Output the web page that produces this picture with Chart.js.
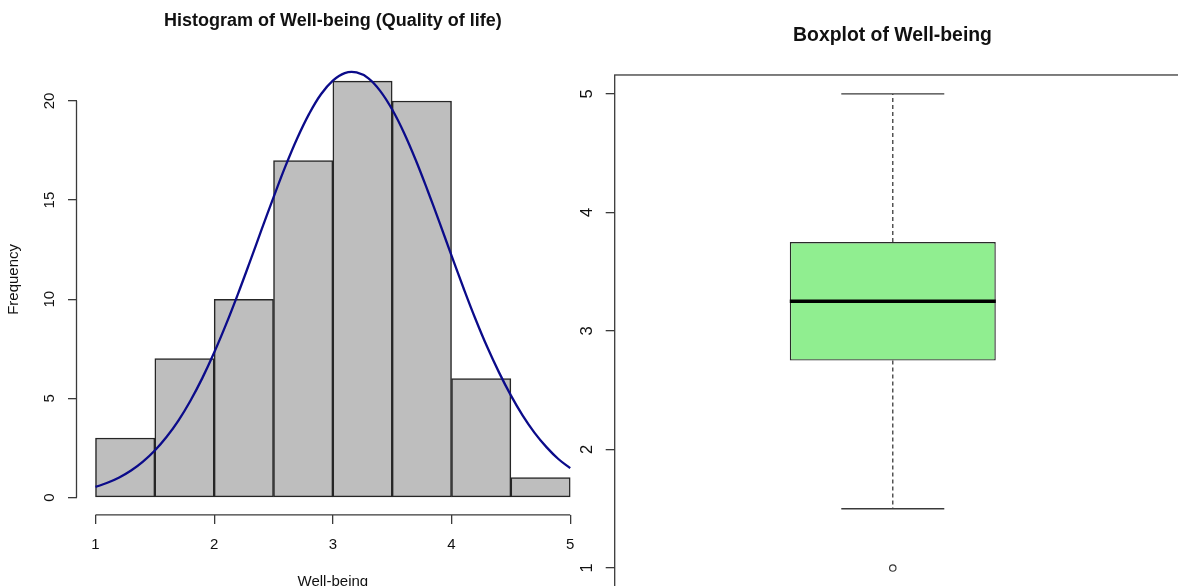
<!DOCTYPE html>
<html>
<head>
<meta charset="utf-8">
<script src="https://cdn.jsdelivr.net/npm/chart.js@4.4.1/dist/chart.umd.min.js"></script>
<style>
  html, body { margin: 0; padding: 0; background: #fff; overflow: hidden; }
  #wrap { position: relative; width: 1178px; height: 586px; overflow: hidden; background: #fff; }
  canvas { position: absolute; top: 0; }
  #histChart { left: 0; }
  #boxChart { left: 575px; }
</style>
</head>
<body>
<div id="wrap">
  <canvas id="histChart" width="600" height="600"></canvas>
  <canvas id="boxChart" width="635" height="587"></canvas>
</div>
<script>
// histogram bins and counts
const binEdges = [1, 1.5, 2, 2.5, 3, 3.5, 4, 4.5, 5];
const binCounts = [3, 7, 10, 17, 21, 20, 6, 1];

// normal curve drawn over the histogram
const curveX = [1, 1.1, 1.2, 1.3, 1.4, 1.5, 1.6, 1.7, 1.8, 1.9,
                2, 2.1, 2.2, 2.3, 2.4, 2.5, 2.6, 2.7, 2.8, 2.9,
                3, 3.1, 3.2, 3.3, 3.4, 3.5, 3.6, 3.7, 3.8, 3.9,
                4, 4.1, 4.2, 4.3, 4.4, 4.5, 4.6, 4.7, 4.8, 4.9, 5];
const curveY = [0.53, 0.74, 1.01, 1.36, 1.81, 2.37, 3.06, 3.89, 4.88, 6.02,
                7.31, 8.73, 10.26, 11.87, 13.52, 15.14, 16.7, 18.12, 19.35, 20.34,
                21.03, 21.41, 21.44, 21.14, 20.5, 19.57, 18.39, 17.0, 15.46, 13.85,
                12.2, 10.58, 9.03, 7.6, 6.31, 5.15, 4.13, 3.26, 2.54, 1.94, 1.48];

const histXTicks = [1, 2, 3, 4, 5];
const histYTicks = [0, 5, 10, 15, 20];

// boxplot: lower whisker, Q1, median, Q3, upper whisker
const boxStats = [1.5, 2.75, 3.25, 3.75, 5];
const boxOutliers = [1];
const boxYTicks = [1, 2, 3, 4, 5];

const ink = "#3a3a3a";
const textCol = "#111";
Chart.defaults.font.family = "'Liberation Sans', Arial, sans-serif";
Chart.defaults.animation = false;

// R style axes: line only spans first..last tick
const histAxisLines = {
  id: "histAxisLines",
  afterDatasetsDraw(chart) {
    const { ctx, chartArea, scales } = chart;
    const x = scales.x, y = scales.y;
    ctx.save();
    ctx.strokeStyle = ink;
    ctx.lineWidth = 1.3;
    ctx.beginPath();
    ctx.moveTo(chartArea.left, y.getPixelForValue(histYTicks[0]));
    ctx.lineTo(chartArea.left, y.getPixelForValue(histYTicks[histYTicks.length - 1]));
    ctx.moveTo(x.getPixelForValue(histXTicks[0]), chartArea.bottom);
    ctx.lineTo(x.getPixelForValue(histXTicks[histXTicks.length - 1]), chartArea.bottom);
    ctx.stroke();
    ctx.restore();
  }
};

const boxFrame = {
  id: "boxFrame",
  afterDatasetsDraw(chart) {
    const { ctx, chartArea } = chart;
    ctx.save();
    ctx.strokeStyle = ink;
    ctx.lineWidth = 1.3;
    ctx.strokeRect(chartArea.left, chartArea.top, chartArea.right - chartArea.left, chartArea.bottom - chartArea.top);
    ctx.restore();
  }
};

function tickMarks(len) {
  return { drawOnChartArea: false, drawTicks: true, tickLength: len, color: ink, lineWidth: 1.3, offset: false };
}

// ---- histogram ----
new Chart(document.getElementById("histChart"), {
  type: "bar",
  data: {
    datasets: [
      {
        type: "line",
        data: curveX.map((x, i) => ({ x, y: curveY[i] })),
        borderColor: "#0b0b8a",
        borderWidth: 2.3,
        pointRadius: 0,
        tension: 0.4,
        order: 0
      },
      {
        type: "bar",
        data: binCounts.map((c, i) => ({ x: (binEdges[i] + binEdges[i + 1]) / 2, y: c })),
        backgroundColor: "#bebebe",
        borderColor: "#262626",
        borderWidth: 1.5,
        borderSkipped: false,
        barPercentage: 1,
        categoryPercentage: 1,
        order: 1
      }
    ]
  },
  options: {
    responsive: false,
    devicePixelRatio: 1,
    layout: { autoPadding: false, padding: { left: 0, right: 10.8, top: 0, bottom: 0 } },
    plugins: {
      legend: { display: false },
      tooltip: { enabled: false },
      title: {
        display: true,
        fullSize: false,
        text: "Histogram of Well-being (Quality of life)",
        color: textCol,
        font: { size: 18, weight: "bold", lineHeight: 1.2 },
        padding: { top: 10.5, bottom: 11.8 }
      }
    },
    scales: {
      x: {
        type: "linear",
        min: 0.84,
        max: 5.16,
        offset: false,
        afterBuildTicks: s => { s.ticks = histXTicks.map(v => ({ value: v })); },
        afterFit: s => { s.height = 85.1; },
        border: { display: false },
        grid: tickMarks(9),
        ticks: { color: textCol, font: { size: 15 }, padding: 12, autoSkip: false, maxRotation: 0 },
        title: { display: true, text: "Well-being", color: textCol, font: { size: 15, lineHeight: 1.2 }, padding: { top: 0, bottom: 9 } }
      },
      y: {
        type: "linear",
        min: -0.88,
        max: 22.88,
        afterBuildTicks: s => { s.ticks = histYTicks.map(v => ({ value: v })); },
        afterFit: s => { s.width = 76.5; s.paddingTop = 0; s.paddingBottom = 0; },
        border: { display: false },
        grid: tickMarks(8.5),
        ticks: { color: textCol, font: { size: 15 }, padding: 9.6, minRotation: 90, maxRotation: 90, crossAlign: "center" },
        title: { display: true, text: "Frequency", color: textCol, font: { size: 15, lineHeight: 1.2 }, padding: { top: 4.5, bottom: 0 } }
      }
    }
  },
  plugins: [histAxisLines]
});

// ---- boxplot ----
const boxCenter = 1, boxHalf = 0.2, capHalf = 0.1;
const boxXMin = 0.46, boxXMax = 1.616;

function segment(x1, y1, x2, y2, extra) {
  return Object.assign({
    type: "line",
    data: [{ x: x1, y: y1 }, { x: x2, y: y2 }],
    borderColor: ink,
    borderWidth: 1.3,
    pointRadius: 0,
    order: 1
  }, extra || {});
}

new Chart(document.getElementById("boxChart"), {
  type: "bar",
  data: {
    datasets: [
      {
        type: "bar",
        data: [{ x: boxCenter, y: [boxStats[1], boxStats[3]] }],
        backgroundColor: "#90ee90",
        borderColor: "#2a2a2a",
        borderWidth: 1.4,
        borderSkipped: false,
        barPercentage: (2 * boxHalf) / (boxXMax - boxXMin),
        categoryPercentage: 1,
        order: 2
      },
      segment(boxCenter - boxHalf, boxStats[2], boxCenter + boxHalf, boxStats[2], { borderColor: "#000", borderWidth: 3.5, order: 0 }),
      segment(boxCenter, boxStats[3], boxCenter, boxStats[4], { borderDash: [4, 3] }),
      segment(boxCenter, boxStats[1], boxCenter, boxStats[0], { borderDash: [4, 3] }),
      segment(boxCenter - capHalf, boxStats[4], boxCenter + capHalf, boxStats[4]),
      segment(boxCenter - capHalf, boxStats[0], boxCenter + capHalf, boxStats[0]),
      {
        type: "scatter",
        data: boxOutliers.map(v => ({ x: boxCenter, y: v })),
        pointStyle: "circle",
        pointRadius: 3.2,
        pointBorderWidth: 1.2,
        pointBorderColor: ink,
        pointBackgroundColor: "rgba(0,0,0,0)",
        borderColor: ink,
        backgroundColor: "rgba(0,0,0,0)",
        order: 0
      }
    ]
  },
  options: {
    responsive: false,
    devicePixelRatio: 1,
    layout: { autoPadding: false, padding: { left: 0, right: 0, top: 0, bottom: 0 } },
    plugins: {
      legend: { display: false },
      tooltip: { enabled: false },
      title: {
        display: true,
        text: "Boxplot of Well-being",
        color: textCol,
        font: { size: 19.4, weight: "bold", lineHeight: 1.2 },
        padding: { top: 24.5, bottom: 27.2 }
      }
    },
    scales: {
      x: {
        type: "linear",
        display: false,
        min: boxXMin,
        max: boxXMax,
        offset: false,
        afterBuildTicks: s => { s.ticks = [{ value: boxCenter }]; }
      },
      y: {
        type: "linear",
        min: 0.84,
        max: 5.16,
        afterBuildTicks: s => { s.ticks = boxYTicks.map(v => ({ value: v })); },
        afterFit: s => { s.width = 39.7; s.paddingTop = 0; s.paddingBottom = 0; },
        border: { display: false },
        grid: tickMarks(9),
        ticks: { color: textCol, font: { size: 16.5 }, padding: 13.5, minRotation: 90, maxRotation: 90, crossAlign: "center" }
      }
    }
  },
  plugins: [boxFrame]
});
</script>
</body>
</html>
